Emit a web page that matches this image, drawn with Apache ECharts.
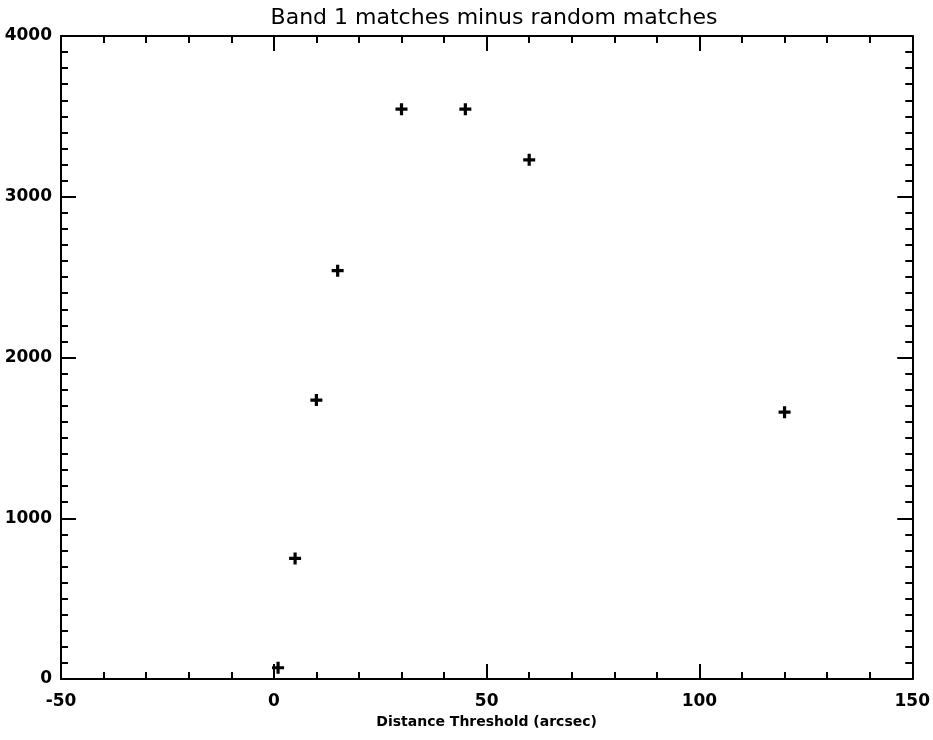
<!DOCTYPE html>
<html>
<head>
<meta charset="utf-8">
<script src="https://cdn.jsdelivr.net/npm/echarts@6/dist/echarts.min.js"></script>
<style>
  html, body { margin: 0; padding: 0; background: #fff; }
  #chart { width: 933px; height: 740px; }
</style>
</head>
<body>
<div id="chart"></div>
<script>
// Distance threshold (arcsec) and excess matches over random
const thresholds = [1, 5, 10, 15, 30, 45, 60, 120];
const excessMatches = [70, 750, 1735, 2540, 3545, 3545, 3230, 1660];

const xRange = [-50, 150];
const yRange = [0, 4000];
const xStep = 50;
const yStep = 1000;

const titleText = 'Band 1 matches minus random matches';
const xAxisTitle = 'Distance Threshold (arcsec)';

const ink = '#000';
const plusPath = 'path://M4.4,0 L7.6,0 L7.6,4.4 L12,4.4 L12,7.6 L7.6,7.6 L7.6,12 L4.4,12 L4.4,7.6 L0,7.6 L0,4.4 L4.4,4.4 Z';

function frameAxis(extra, minMax, step, splits, labelMargin) {
  return Object.assign({
    type: 'value',
    min: minMax[0],
    max: minMax[1],
    interval: step,
    axisLine: { show: true, onZero: false, lineStyle: { color: ink, width: 2 } },
    axisTick: { show: true, inside: true, length: 15, lineStyle: { color: ink, width: 2 } },
    minorTick: { show: true, splitNumber: splits, length: 7, lineStyle: { color: ink, width: 2 } },
    splitLine: { show: false },
    axisLabel: labelMargin != null
      ? { show: true, color: ink, fontFamily: 'DejaVu Sans', fontWeight: 'bold', fontSize: 17, margin: labelMargin,
          formatter: v => String(v) }
      : { show: false }
  }, extra);
}

const chart = echarts.init(document.getElementById('chart'), null, { renderer: 'canvas' });
chart.setOption({
  backgroundColor: '#fff',
  animation: false,
  title: {
    text: titleText,
    left: 489,
    textAlign: 'center',
    top: 2,
    textStyle: { color: ink, fontFamily: 'DejaVu Sans', fontWeight: 'normal', fontSize: 22 }
  },
  grid: { left: 61, right: 17, top: 36, bottom: 61, containLabel: false },
  xAxis: [
    frameAxis({
      position: 'bottom',
      name: xAxisTitle,
      nameLocation: 'middle',
      nameGap: 36,
      nameTextStyle: { color: ink, fontFamily: 'DejaVu Sans', fontWeight: 'bold', fontSize: 14 }
    }, xRange, xStep, 5, 14),
    frameAxis({ position: 'top' }, xRange, xStep, 5, null)
  ],
  yAxis: [
    frameAxis({ position: 'left' }, yRange, yStep, 10, 9),
    frameAxis({ position: 'right' }, yRange, yStep, 10, null)
  ],
  series: [{
    type: 'scatter',
    xAxisIndex: 0,
    yAxisIndex: 0,
    symbol: plusPath,
    symbolSize: 12,
    itemStyle: { color: ink, opacity: 1 },
    data: thresholds.map((t, i) => [t, excessMatches[i]])
  }]
});
</script>
</body>
</html>
